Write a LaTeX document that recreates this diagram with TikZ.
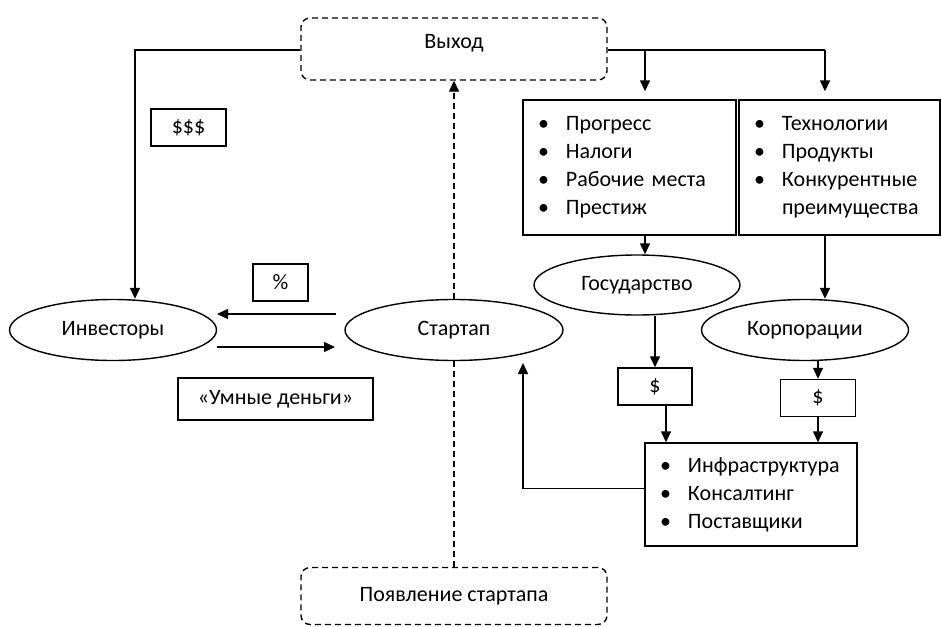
\documentclass[tikz,border=0pt]{standalone}
\usepackage{fontspec}
\setmainfont{Carlito}
\usetikzlibrary{arrows.meta,shapes.geometric,calc}
\begin{document}
\begin{tikzpicture}[x=1pt,y=-1pt,
  every node/.style={font=\fontsize{22}{28}\selectfont, inner sep=0pt},
  ln/.style={line width=1.4pt},
  arr/.style={ln,-{Triangle[length=11pt,width=10pt]}},
  dsh/.style={line width=1.4pt, dash pattern=on 6pt off 4pt},
  dbox/.style={draw, dsh, rounded corners=9pt, minimum width=306pt},
  ell/.style={draw, ln, ellipse, minimum height=61pt},
  rbox/.style={draw, ln, rectangle},
  lbox/.style={draw, ln, rectangle, align=left, inner xsep=15pt, inner ysep=0pt}
]
\useasboundingbox (0,0) rectangle (941,626);
% top / bottom dashed boxes
\node[dbox, minimum height=62pt, label={[yshift=6pt]center:Выход}] (exit) at (454,49) {};
\node[dbox, minimum height=57pt] (emerge) at (454,596) {Появление стартапа};
% ellipses
\node[ell, minimum width=207pt] (inv) at (113,330) {Инвесторы};
\node[ell, minimum width=218pt] (st) at (454,330) {Стартап};
\node[ell, minimum width=206pt, minimum height=60pt] (gos) at (637,285) {Государство};
\node[ell, minimum width=207pt] (korp) at (805,330) {Корпорации};
% small boxes
\node[rbox, minimum width=75pt, minimum height=37pt] (sss) at (188.5,127.5) {\$\$\$};
\node[rbox, minimum width=55pt, minimum height=37pt] (pct) at (280.5,282.5) {\%};
\node[rbox, minimum width=195pt, minimum height=42pt] (smart) at (275.5,399) {«Умные деньги»};
\node[rbox, minimum width=74pt, minimum height=37pt] (d1) at (655,386.5) {\$};
\node[rbox, minimum width=75pt, minimum height=37pt] (d2) at (818,398) {\$};
% list boxes
\node[lbox, text width=183pt, minimum height=135pt] (b1) at (629.5,167.5)
  {\makebox[28pt][l]{•}Прогресс\\\makebox[28pt][l]{•}Налоги\\\makebox[28pt][l]{•}Рабочие места\\\makebox[28pt][l]{•}Престиж};
\node[lbox, text width=171pt, minimum height=135pt] (b2) at (839.5,167.5)
  {\makebox[28pt][l]{•}Технологии\\\makebox[28pt][l]{•}Продукты\\\makebox[28pt][l]{•}Конкурентные\\\hspace*{28pt}преимущества};
\node[lbox, text width=182pt, minimum height=103pt] (infra) at (751,494.5)
  {\makebox[28pt][l]{•}Инфраструктура\\\makebox[28pt][l]{•}Консалтинг\\\makebox[28pt][l]{•}Поставщики};
% junction coordinates
\coordinate (jl) at (135,50);
\coordinate (j1) at (645,50);
\coordinate (j2) at (825,50);
\coordinate (stin) at (523,363);
% connectors
\draw[arr] ([yshift=-1pt]exit.west) -| (inv.north -| jl);
\draw[arr] ([shift={(-118,-16)}]st.center) -- ([shift={(104,-16)}]inv.center);
\draw[arr] ([shift={(104,17)}]inv.center) -- ([shift={(-119,17)}]st.center);
\draw[dsh, -{Triangle[length=11pt,width=10pt]}] (st.north) -- (exit.south);
\draw[dsh] (st.south) -- (emerge.north);
\draw[ln] ([yshift=-1pt]exit.east) -- (j2);
\draw[arr, shorten >=8pt] (j1) -- (b1.north -| j1);
\draw[arr, shorten >=8pt] (j2) -- (b2.north -| j2);
\draw[arr] (b1.south -| j1) -- (gos.north -| j1);
\draw[arr] (b2.south -| j2) -- (korp.north -| j2);
\draw[arr] (gos.south -| d1.north) -- (d1.north);
\draw[arr] ([xshift=11pt]d1.south) -- ([xshift=11pt]d1.south |- infra.north);
\draw[arr] (korp.south -| d2.north) -- (d2.north);
\draw[arr] (d2.south) -- (d2.south |- infra.north);
\draw[arr] ([yshift=6pt]infra.west) -| (stin);
\end{tikzpicture}
\end{document}
